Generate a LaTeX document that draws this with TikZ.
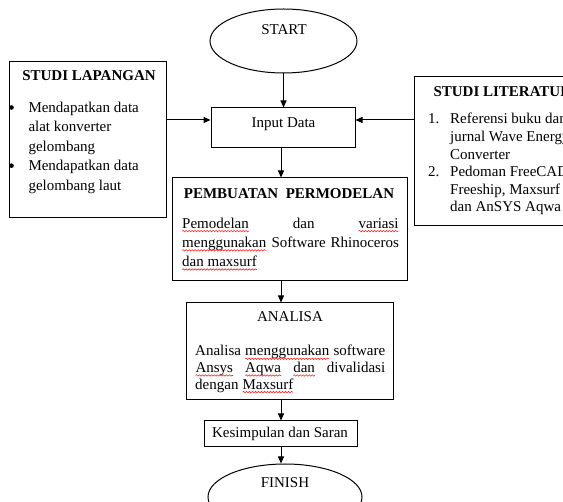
\documentclass[tikz,border=0pt]{standalone}
\usepackage{fontspec}
\setmainfont{Liberation Serif}
\usetikzlibrary{shapes.geometric,arrows.meta,decorations.pathmorphing}

\tikzset{
  box/.style={draw,line width=1pt,rectangle,inner sep=0pt},
  oval/.style={draw,line width=1pt,ellipse,inner sep=0pt},
  txt/.style={inner sep=0pt,font=\fontsize{15}{19}\selectfont},
  ttl/.style={inner sep=0pt,font=\fontsize{15}{19}\selectfont\bfseries},
  arr/.style={-{Triangle[length=7pt,width=6pt]},line width=1pt},
  squiggle/.style={red!85!white,line width=0.6pt,decorate,
    decoration={snake,amplitude=0.7pt,segment length=3pt}},
}
\newcommand{\spellerr}[1]{\tikz[baseline=(w.base)]{\node[inner sep=0pt,outer sep=0pt] (w) {#1};
  \draw[squiggle] ([yshift=-2.8pt]w.base west) -- ([yshift=-2.8pt]w.base east);}}

\begin{document}
\begin{tikzpicture}[x=1pt,y=-1pt]
\useasboundingbox (0,0) rectangle (563,502);
\clip (0,0) rectangle (563,502);
\fill[white] (0,0) rectangle (563,502);

% shapes
\node[oval,minimum width=147,minimum height=64] (start) at (283.5,41) {};
\node[box,minimum width=144,minimum height=40] (inp) at (283,128) {};
\node[box,minimum width=157,minimum height=156] (lap) at (87.5,140) {};
\node[box,minimum width=196,minimum height=149] (lit) at (512,151.5) {};
\node[box,minimum width=235,minimum height=103] (pem) at (289.5,229.5) {};
\node[box,minimum width=207,minimum height=97] (ana) at (289.5,351.5) {};
\node[box,minimum width=153,minimum height=26] (kes) at (280.5,434) {};
\node[oval,minimum width=154,minimum height=66] (finish) at (285,497) {};

% texts
\node[txt,anchor=base] (starttxt) at (284,34.3) {START};
\node[txt,anchor=base] (inptxt) at (283.5,127.3) {Input Data};

\node[ttl,anchor=base] (laptitle) at (89,81) {STUDI LAPANGAN};
\fill (11.5,107.5) circle (2.3pt) coordinate (lapbul1);
\fill (11.5,165.7) circle (2.3pt) coordinate (lapbul2);
\foreach \t [count=\i from 0] in {Mendapatkan data,alat konverter,gelombang,Mendapatkan data,gelombang laut}
  \node[txt,anchor=base west] (lap\i) at (28.3,{112.5+19.4*\i}) {\t};

\node[ttl,anchor=base west] (littitle) at (433.3,96.7) {STUDI LITERATUR};
\node[txt,anchor=base west] (litnum1) at (428,124) {1.};
\node[txt,anchor=base west] (litnum2) at (428,176.8) {2.};
\foreach \t [count=\i from 0] in {Referensi buku dan,jurnal Wave Energy,Converter,Pedoman FreeCAD,{Freeship, Maxsurf},dan AnSYS Aqwa}
  \node[txt,anchor=base west] (lit\i) at (450,{124+17.6*\i}) {\t};

\node[ttl,anchor=base] (pemtitle) at (289,198.3) {PEMBUATAN~ PERMODELAN};
\node[txt,anchor=base west] (pem0) at (181.7,228.3) {\makebox[217pt][s]{\spellerr{Pemodelan} dan \spellerr{variasi}}};
\node[txt,anchor=base west] (pem1) at (181.7,247.5) {\makebox[217pt][s]{\spellerr{menggunakan} Software Rhinoceros}};
\node[txt,anchor=base west] (pem2) at (181.7,266.7) {\spellerr{dan maxsurf}};

\node[txt,anchor=base] (anatitle) at (290,321.7) {ANALISA};
\node[txt,anchor=base west] (ana0) at (195,356) {\makebox[190pt][s]{Analisa \spellerr{menggunakan} software}};
\node[txt,anchor=base west] (ana1) at (195,372.7) {\makebox[190pt][s]{\spellerr{Ansys} \spellerr{Aqwa} \spellerr{dan} divalidasi}};
\node[txt,anchor=base west] (ana2) at (195,389.3) {dengan \spellerr{Maxsurf}};

\node[txt,anchor=base] (kestxt) at (280,437.3) {Kesimpulan dan Saran};
\node[txt,anchor=base] (fintxt) at (285,487.3) {FINISH};

% connectors
\coordinate (axis) at (281,0);
\coordinate (row) at ([yshift=8pt]inp.west);
\draw[arr] (start) -- (start |- inp.north);
\draw[arr] (lap.east |- row) -- (row);
\draw[arr] (lit.west |- row) -- (row -| inp.east);
\draw[arr] (axis |- inp.south) -- (axis |- pem.north);
\draw[arr] (axis |- pem.south) -- (axis |- ana.north);
\draw[arr] (axis |- ana.south) -- (axis |- kes.north);
\draw[arr] (axis |- kes.south) -- (axis |- finish.north);
\end{tikzpicture}
\end{document}
